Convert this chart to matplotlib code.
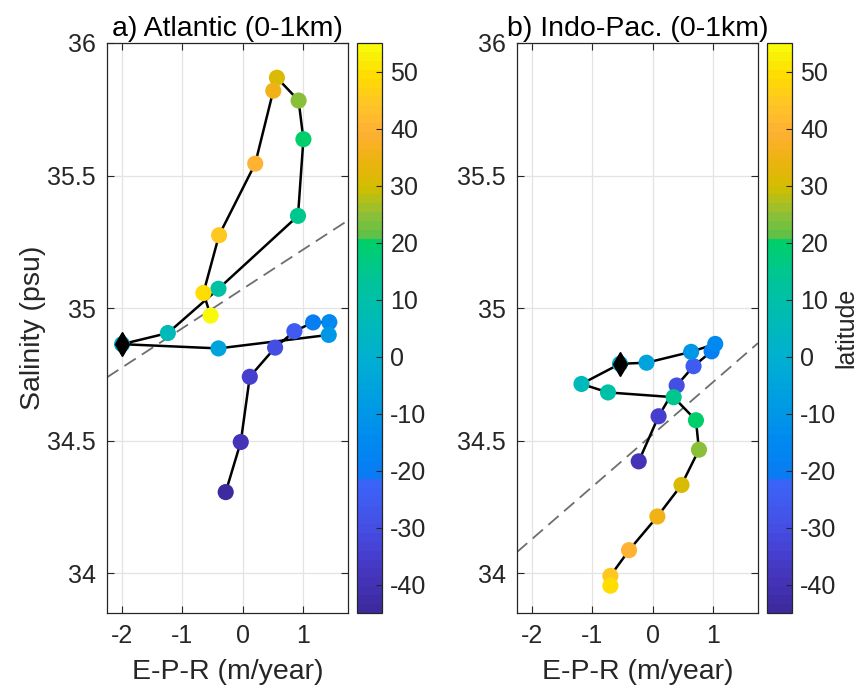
import matplotlib
matplotlib.use("Agg")
import matplotlib.pyplot as plt
from matplotlib.colors import LinearSegmentedColormap, Normalize

plt.rcParams['font.family'] = ['Liberation Sans', 'DejaVu Sans']
plt.rcParams['axes.unicode_minus'] = False

# ---- data ----
# a) Atlantic, 0-1km
atl_lat = [-45, -40, -35, -30, -25, -20, -15, -10, -5, 0, 5,
           10, 15, 20, 25, 30, 35, 40, 45, 50, 55]
atl_epr = [-0.28, -0.03, 0.12, 0.54, 0.86, 1.17, 1.44, 1.43, -0.40, -2.00, -1.24,
           -0.40, 0.92, 1.01, 0.93, 0.57, 0.51, 0.21, -0.39, -0.65, -0.53]
atl_sal = [34.306, 34.495, 34.741, 34.851, 34.913, 34.946, 34.947, 34.899, 34.848, 34.864, 34.906,
           35.073, 35.348, 35.637, 35.783, 35.869, 35.820, 35.545, 35.275, 35.057, 34.972]
atl_dash_x = [-2.25, 1.75]
atl_dash_y = [34.739, 35.331]

# b) Indo-Pacific, 0-1km
pac_lat = [-40, -35, -30, -25, -20, -15, -10, -5, 0, 5,
           10, 15, 20, 25, 30, 35, 40, 45, 50]
pac_epr = [-0.23, 0.10, 0.40, 0.68, 0.98, 1.04, 0.64, -0.10, -0.54, -1.18,
           -0.74, 0.35, 0.72, 0.77, 0.48, 0.08, -0.39, -0.70, -0.70]
pac_sal = [34.422, 34.592, 34.708, 34.781, 34.837, 34.865, 34.835, 34.794, 34.790, 34.714,
           34.682, 34.664, 34.577, 34.466, 34.333, 34.214, 34.087, 33.990, 33.953]
pac_dash_x = [-2.25, 1.75]
pac_dash_y = [34.080, 34.868]

cbar_ticks = [-40, -30, -20, -10, 0, 10, 20, 30, 40, 50]
x_ticks = [-2, -1, 0, 1]
y_ticks = [34, 34.5, 35, 35.5, 36]

# ---- colormap (parula-like with two jumps) ----
cmap_pos = [0.00, 0.05, 0.10, 0.15, 0.225, 0.23, 0.30, 0.35, 0.40, 0.45, 0.50,
            0.55, 0.60, 0.655, 0.66, 0.70, 0.75, 0.80, 0.85, 0.90, 0.95, 1.00]
cmap_col = ['#3d2a9e', '#4433b8', '#463fd0', '#4550e6', '#3a64f8', '#0a7af5', '#008af0',
            '#0098e6', '#00a5dc', '#00b0d0', '#00b8bc', '#00bfa8', '#00c690', '#00cf68',
            '#58c048', '#8cc038', '#d2be00', '#eeb210', '#ffb035', '#ffc625', '#ffdc00',
            '#f8fa0a']
cmap = LinearSegmentedColormap.from_list('lat', list(zip(cmap_pos, cmap_col)), N=64)
norm = Normalize(vmin=-45, vmax=55)

FS_TICK = 18
FS_LAB = 20.5

fig = plt.figure(figsize=(8.66, 6.89), dpi=100)
W, H = 866.0, 689.0
ax1 = fig.add_axes([107 / W, 76 / H, 241 / W, 570 / H])
cax1 = fig.add_axes([357 / W, 76 / H, 25 / W, 570 / H])
ax2 = fig.add_axes([517 / W, 76 / H, 241 / W, 570 / H])
cax2 = fig.add_axes([767 / W, 76 / H, 25 / W, 570 / H])


def draw_panel(ax, cax, lat, epr, sal, dx, dy, title, ylabel=None, clabel=None):
    ax.plot(dx, dy, '--', color='#6e6e6e', lw=1.3, dashes=(7.5, 4.0), zorder=2)
    ax.plot(epr, sal, '-', color='black', lw=1.8, zorder=3)
    sc = ax.scatter(epr, sal, c=lat, cmap=cmap, norm=norm, s=135,
                    edgecolors='none', zorder=4)
    i0 = lat.index(0)
    ax.plot(epr[i0], sal[i0], marker='d', color='black', ms=12, zorder=5)

    ax.set_xlim(-2.25, 1.75)
    ax.set_ylim(33.85, 36)
    ax.set_xticks(x_ticks)
    ax.set_yticks(y_ticks)
    ax.set_xticklabels([str(t) for t in x_ticks])
    ax.set_yticklabels(['34', '34.5', '35', '35.5', '36'])
    ax.grid(True, color='#e3e3e3', lw=0.9)
    ax.set_axisbelow(True)
    ax.tick_params(direction='in', top=True, right=True, length=5, width=0.8,
                   color='#262626', labelsize=FS_TICK, labelcolor='#262626', pad=8)
    for s in ax.spines.values():
        s.set_color('#262626')
        s.set_linewidth(0.9)
    ax.set_xlabel('E-P-R (m/year)', fontsize=FS_LAB, color='#262626', labelpad=8)
    if ylabel:
        ax.set_ylabel(ylabel, fontsize=FS_LAB, color='#262626', labelpad=1)
    ax.set_title(title, fontsize=FS_LAB, color='black', pad=5)

    cb = fig.colorbar(sc, cax=cax, ticks=cbar_ticks)
    cb.outline.set_edgecolor('#262626')
    cb.outline.set_linewidth(0.9)
    cax.tick_params(direction='in', length=4, width=0.8, color='#262626',
                    labelsize=FS_TICK, labelcolor='#262626', pad=6)
    if clabel:
        cb.set_label(clabel, fontsize=FS_TICK, color='#262626', labelpad=-2)


draw_panel(ax1, cax1, atl_lat, atl_epr, atl_sal, atl_dash_x, atl_dash_y,
           'a) Atlantic (0-1km)', ylabel='Salinity (psu)')
draw_panel(ax2, cax2, pac_lat, pac_epr, pac_sal, pac_dash_x, pac_dash_y,
           'b) Indo-Pac. (0-1km)', clabel='latitude')

fig.savefig('out.png', dpi=100)
